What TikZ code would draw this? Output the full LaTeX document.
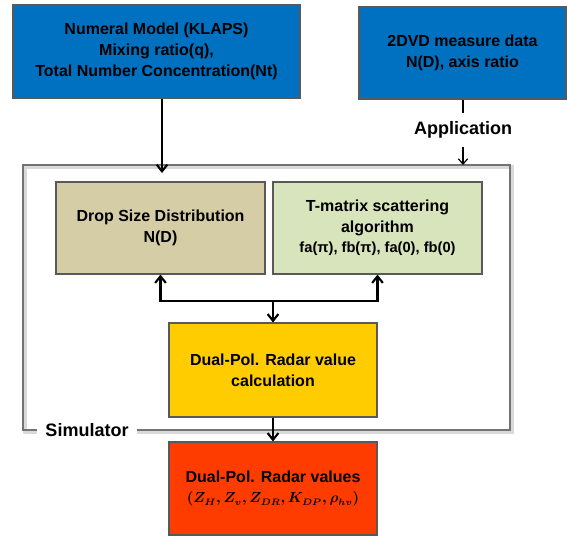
\documentclass[tikz,border=0pt]{standalone}
\usepackage{fontspec}
\setmainfont{Liberation Sans}
\usetikzlibrary{arrows.meta,shadows}

\definecolor{modelblue}{RGB}{0,112,192}
\definecolor{dsdtan}{RGB}{213,205,166}
\definecolor{tmatgreen}{RGB}{215,228,188}
\definecolor{calcyellow}{RGB}{255,204,0}
\definecolor{resultred}{RGB}{255,60,0}

\tikzset{every picture/.style={line width=0.75pt}}
\tikzset{
	box/.style={draw=black!65, line width=0.8pt, align=center, inner sep=0pt,
		font=\bfseries\fontsize{12}{15.5}\selectfont,
		drop shadow={opacity=0.35, shadow xshift=1pt, shadow yshift=-1pt}},
	flow/.style={line width=2.2pt, -{Straight Barb[length=5pt,width=8pt,line width=1.6pt]}},
	thinflow/.style={line width=0.9pt, -{Straight Barb[length=4pt,width=7pt]}},
	tag/.style={font=\bfseries\fontsize{13.5}{15}\selectfont}
}

\begin{document}
\begin{tikzpicture}[x=0.75pt,y=0.75pt,yscale=-1,xscale=1]
	\path[use as bounding box] (0,0) rectangle (567,536);

	% input boxes
	\node[box, fill=modelblue, minimum width=287*0.75pt, minimum height=93*0.75pt] (numer) at (156.5,51.5)
		{Numeral Model (KLAPS)\\Mixing ratio(q),\\Total Number Concentration(Nt)};
	\node[box, fill=modelblue, minimum width=207*0.75pt, minimum height=92*0.75pt] (dvd) at (462.5,53)
		{2DVD measure data\\N(D), axis ratio};

	% simulator frame
	\draw[line width=3pt, black!15] (25,167) -- (512,167) -- (512,432) -- (25,432) -- cycle;
	\draw[line width=1.2pt, black!55] (23,165) -- (510,165) -- (510,430) -- (23,430) -- cycle;
	\node[tag, fill=white, inner xsep=6pt, inner ysep=2pt] (sim) at (87,430) {Simulator};

	% simulator boxes
	\node[box, fill=dsdtan, minimum width=209*0.75pt, minimum height=92*0.75pt] (dsd) at (160.5,228)
		{Drop Size Distribution\\N(D)};
	\node[box, fill=tmatgreen, minimum width=209*0.75pt, minimum height=92*0.75pt] (tmat) at (377.5,228)
		{T-matrix scattering\\algorithm\\{\fontsize{11}{14}\selectfont fa(π), fb(π), fa(0), fb(0)}};
	\node[box, fill=calcyellow, minimum width=208*0.75pt, minimum height=94*0.75pt] (calc) at (273,370)
		{Dual-Pol. Radar value\\calculation};
	\node[box, fill=resultred, minimum width=208*0.75pt, minimum height=93*0.75pt] (result) at (273,488.5)
		{Dual-Pol. Radar values\\{\fontsize{10.5}{15.5}\selectfont\boldmath$(Z_H, Z_v, Z_{DR}, K_{DP}, \rho_{hv})$}};

	% application label
	\node[tag, inner xsep=2pt, inner ysep=6pt] (app) at (463,130) {Application};

	\coordinate (numin) at (162,173);
	\coordinate (appin) at (463,165);
	\coordinate (jn) at (273,301);

	% connectors
	\draw[flow] (numer.south -| numin) -- (numin);
	\draw[line width=0.9pt] (dvd.south -| app.north) -- (app.north);
	\draw[thinflow] (app.south) -- (appin);
	\draw[flow] (jn) -| (dsd);
	\draw[flow] (jn) -| (tmat);
	\draw[flow] (jn) -- (calc);
	\draw[flow] (calc) -- (result);

\end{tikzpicture}
\end{document}
